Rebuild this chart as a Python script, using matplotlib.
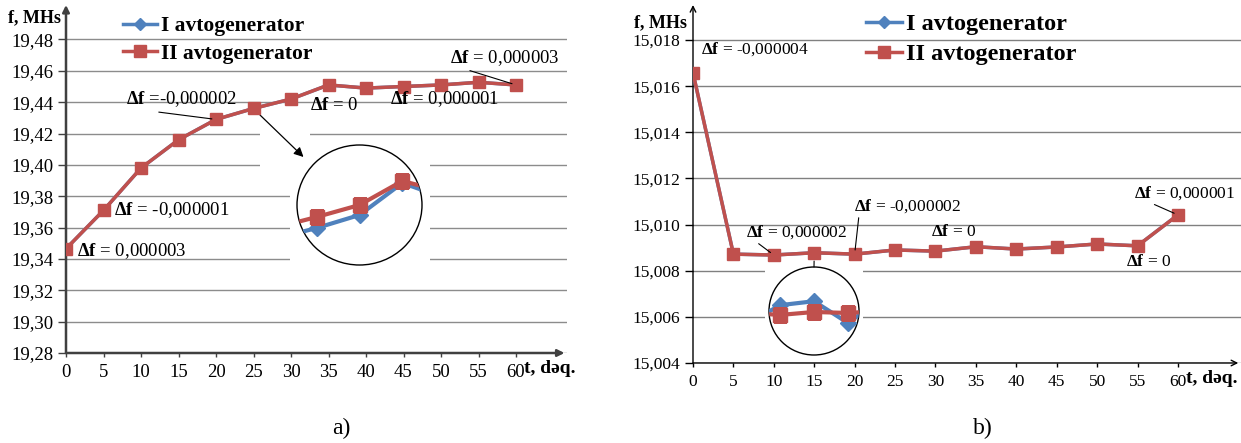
import numpy as np
import matplotlib.pyplot as plt
from matplotlib.patches import Ellipse, Rectangle

plt.rcParams['font.family'] = ['Liberation Serif', 'DejaVu Serif']
plt.rcParams['mathtext.fontset'] = 'custom'
plt.rcParams['mathtext.rm'] = 'Liberation Serif'
plt.rcParams['mathtext.bf'] = 'Liberation Serif:bold'

W, H = 1241, 443

# vaxt, deq.
t = [0, 5, 10, 15, 20, 25, 30, 35, 40, 45, 50, 55, 60]

# a) f, MHs
f_II_a = [19.3465, 19.371, 19.398, 19.416, 19.429, 19.436, 19.442,
          19.451, 19.449, 19.450, 19.451, 19.4527, 19.451]
f_I_a = [19.346503, 19.370999, 19.398, 19.416, 19.428998, 19.436, 19.442,
         19.451, 19.449, 19.450001, 19.451, 19.4527, 19.451003]

# b) f, MHs
f_II_b = [15.01658, 15.00872, 15.00868, 15.00878, 15.00872, 15.0089, 15.00885,
          15.00904, 15.00894, 15.00903, 15.00916, 15.00908, 15.01042]
f_I_b = [15.016576, 15.00872, 15.008682, 15.00878, 15.008718, 15.0089, 15.00885,
         15.00904, 15.00894, 15.00903, 15.00916, 15.00908, 15.010421]

# boyudulmus hisseler
zoom_t_a = [25, 30, 35, 40, 45]
zoom_II_a = [19.441987, 19.441998, 19.442010, 19.442034, 19.442023]
zoom_I_a = [19.441976, 19.441987, 19.442000, 19.442032, 19.442017]

zoom_t_b = [5, 10, 15, 20, 25]
zoom_II_b = [15.008643, 15.008641, 15.008644, 15.008643, 15.008645]
zoom_I_b = [15.008632, 15.008651, 15.008655, 15.008633, 15.008656]

yticks_a = [19.28, 19.30, 19.32, 19.34, 19.36, 19.38, 19.40, 19.42, 19.44, 19.46, 19.48]
yticks_b = [15.004, 15.006, 15.008, 15.010, 15.012, 15.014, 15.016, 15.018]
xticks = [0, 5, 10, 15, 20, 25, 30, 35, 40, 45, 50, 55, 60]

labels = ['I avtogenerator', 'II avtogenerator']
red = '#C0504D'
blue = '#4F81BD'


def rect(x0, y0, x1, y1):
    # piksel -> figur koordinatlari
    return [x0 / W, 1 - y1 / H, (x1 - x0) / W, (y1 - y0) / H]


def comma(v, n):
    return f"{v:.{n}f}".replace('.', ',')


def df(s):
    return r'$\mathbf{\Delta f}$' + s


fig = plt.figure(figsize=(W / 100, H / 100), dpi=100)

ax1 = fig.add_axes(rect(66, 5, 567, 353))
ax2 = fig.add_axes(rect(693, 5, 1241, 363))

setup = [(ax1, yticks_a, 2, (0, 66.8), (19.28, 19.502), '#8c8c8c', '#404040', 1.8, '-|>', 13.5, 14, 8),
         (ax2, yticks_b, 3, (0, 67.8), (15.004, 15.01952), '#808080', 'black', 1.0, '->', 12.5, 14, 8)]
for ax, yt, nd, xl, yl, gc, ac, alw, ast, fs, xfs, xoff in setup:
    ax.set_xlim(*xl)
    ax.set_ylim(*yl)
    ax.set_yticks(yt)
    ax.set_yticklabels([comma(v, nd) for v in yt], fontsize=fs)
    ax.set_xticks(xticks)
    ax.set_xticklabels([str(v) for v in xticks], fontsize=fs)
    ax.tick_params(axis='y', length=6, width=1, color=ac, pad=3)
    ax.tick_params(axis='x', length=3, width=1, color=ac, pad=5)
    ax.grid(axis='y', color=gc, lw=1)
    for s in ax.spines.values():
        s.set_visible(False)
    ax.annotate('', xy=(0, 1), xytext=(0, 0), xycoords='axes fraction',
                arrowprops=dict(arrowstyle=ast, color=ac, lw=alw, shrinkA=0, shrinkB=0))
    ax.annotate('', xy=(0.995, 0), xytext=(0, 0), xycoords='axes fraction',
                arrowprops=dict(arrowstyle=ast, color=ac, lw=alw, shrinkA=0, shrinkB=0))
    ax.annotate('t, dəq.', xy=(60, 0), xycoords=('data', 'axes fraction'),
                xytext=(xoff, -7), textcoords='offset pixels', ha='left', va='top',
                fontsize=xfs, fontweight='bold')

# seriyalar
hI1, = ax1.plot(t, f_I_a, color=blue, lw=2.5, marker='D', ms=6, zorder=3)
hII1, = ax1.plot(t, f_II_a, color=red, lw=2.5, marker='s', ms=8, zorder=4)
hI2, = ax2.plot(t, f_I_b, color=blue, lw=2.5, marker='D', ms=6, zorder=3)
hII2, = ax2.plot(t, f_II_b, color=red, lw=2.5, marker='s', ms=8, zorder=4)

fig.legend([hI1, hII1], labels, loc='upper left', bbox_to_anchor=(123 / W, 1 - 16 / H),
           frameon=False, prop=dict(weight='bold', size=15.5), handlelength=1.6,
           handletextpad=0.15, borderpad=0, labelspacing=0.35, borderaxespad=0)
fig.legend([hI2, hII2], labels, loc='upper left', bbox_to_anchor=(866 / W, 1 - 13 / H),
           frameon=False, prop=dict(weight='bold', size=17.5), handlelength=1.5,
           handletextpad=0.15, borderpad=0, labelspacing=0.33, borderaxespad=0)

fig.text(8 / W, 1 - 18 / H, 'f, MHs', fontsize=13, fontweight='bold', va='center')
fig.text(634 / W, 1 - 23 / H, 'f, MHs', fontsize=13, fontweight='bold', va='center')

fig.text(341 / W, 1 - 428 / H, 'a)', fontsize=17, ha='center', va='center')
fig.text(983 / W, 1 - 428 / H, 'b)', fontsize=17, ha='center', va='center')

# Delta f yazilari
lead = dict(arrowstyle='-', color='black', lw=0.8, shrinkA=0, shrinkB=3)
notes_a = [(0, f_II_a[0], ' = 0,000003', (11, -2), None),
           (5, f_II_a[1], ' = -0,000001', (10, 0), None),
           (20, f_II_a[4], ' =-0,000002', (-90, 20), (0.1, 0)),
           (30, f_II_a[6], ' = 0', (19, -6), None),
           (45, f_II_a[9], ' = 0,000001', (-14, -13), None),
           (60, f_II_a[12], ' = 0,000003', (-66, 27), (0.1, 0))]
notes_b = [(0, f_II_b[0], ' = -0,000004', (8, 24), None),
           (10, f_II_b[2], ' = 0,000002', (-28, 23), (0.09, 0)),
           (20, f_II_b[4], ' = -0,000002', (-1, 48), (0.05, 0)),
           (30, f_II_b[6], ' = 0', (-4, 19), None),
           (55, f_II_b[11], ' = 0', (-12, -16), None),
           (60, f_II_b[12], ' = 0,000001', (-44, 22), (0.14, 0))]
for ax, notes, fs in [(ax1, notes_a, 13.5), (ax2, notes_b, 12.5)]:
    for x, y, s, off, rp in notes:
        kw = {}
        if rp is not None:
            kw['arrowprops'] = dict(lead, relpos=rp)
        ax.annotate(df(s), xy=(x, y), xytext=off, textcoords='offset pixels',
                    ha='left', va='center', fontsize=fs, zorder=6, **kw)

# boyudulmus hisse ucun ag fon
for r in [(260, 125, 310, 170), (290, 140, 430, 268)]:
    x0, y0, w, h = rect(*r)
    ax1.add_patch(Rectangle((x0, y0), w, h, transform=fig.transFigure,
                            facecolor='white', edgecolor='none', zorder=1.8, clip_on=False))
x0, y0, w, h = rect(765, 262, 863, 358)
ax2.add_patch(Rectangle((x0, y0), w, h, transform=fig.transFigure,
                        facecolor='white', edgecolor='none', zorder=1.8, clip_on=False))

ax1.annotate('', xy=(303.5 / W, 1 - 157 / H), xytext=(260 / W, 1 - 115 / H),
             xycoords='figure fraction',
             arrowprops=dict(arrowstyle='-|>', color='black', lw=0.9, mutation_scale=14,
                             shrinkA=0, shrinkB=0))
ax2.annotate('', xy=(814 / W, 1 - 267 / H), xycoords='figure fraction',
             xytext=(15, f_II_b[3]), textcoords='data',
             arrowprops=dict(arrowstyle='-', color='black', lw=0.8, shrinkA=6, shrinkB=0))

insets = [(rect(297, 145, 422, 265), (27.7, 42.3), (19.44195, 19.44207),
           zoom_t_a, zoom_I_a, zoom_II_a),
          (rect(769, 267, 859, 355), (8.3, 21.7), (15.0086, 15.00869),
           zoom_t_b, zoom_I_b, zoom_II_b)]
for pos, xl, yl, zt, zI, zII in insets:
    ins = fig.add_axes(pos)
    ins.set_xlim(*xl)
    ins.set_ylim(*yl)
    ins.axis('off')
    ins.patch.set_alpha(0)
    clip = Ellipse((0.5, 0.5), 1, 1, transform=ins.transAxes)
    l1, = ins.plot(zt, zI, color=blue, lw=3, marker='D', ms=8)
    l2, = ins.plot(zt, zII, color=red, lw=3, marker='s', ms=10)
    l1.set_clip_path(clip)
    l2.set_clip_path(clip)
    ins.add_patch(Ellipse((0.5, 0.5), 1, 1, transform=ins.transAxes, fill=False,
                          edgecolor='black', lw=1, clip_on=False))

fig.savefig('out.png', dpi=100)
